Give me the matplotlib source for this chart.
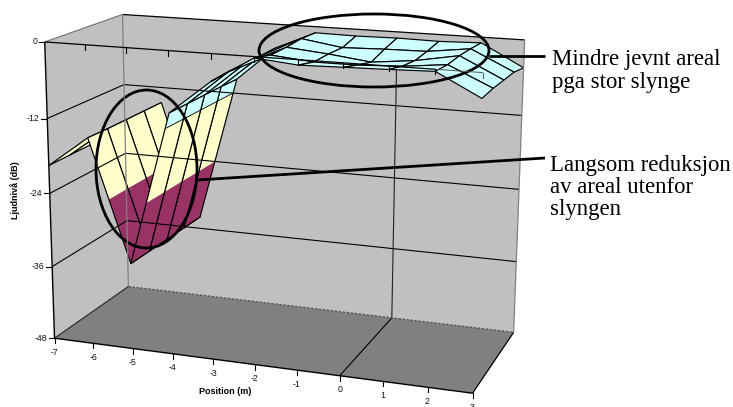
#!/usr/bin/env python3
import numpy as np
import matplotlib
matplotlib.use("Agg")
import matplotlib.pyplot as plt
from matplotlib.patches import Ellipse, Polygon

# Data: sound level (dB) per position, rows front to back
positions = [-7, -6, -5, -4, -3, -2, -1, 0, 1, 2, 3]
depth_rows = [0.0, 0.25, 0.5, 0.75, 1.0]
level_d0 = [-19.5, -14.5, -34, -9.5, -4.2, -0.2, -0.8, -0.65, -0.5, -0.3, -3.7]
level_d1 = [-19.5, -14.6, -34, -9.5, -4.0, -1.0, -1.6, -1.6, -1.3, -0.6, -3.6]
level_d2 = [-19.5, -14.6, -34, -9.5, -4.0, -1.0, -1.6, -2.4, -1.7, -0.5, -3.7]
level_d3 = [-19.5, -14.6, -34, -9.5, -4.0, -0.8, -1.8, -1.6, -1.5, -0.65, -3.8]
level_d4 = [-19.5, -14.6, -34, -9.6, -3.9, -1.0, -1.1, -1.0, -1.1, -0.9, -4.4]
levels = np.array([level_d0, level_d1, level_d2, level_d3, level_d4])

y_ticks = [0, -12, -24, -36, -48]

bands = [(-36, -24, "#993366"), (-48, -36, "#993366"),
         (-24, -12, "#FFFFCC"), (-12, 0, "#CCFFFF")]

# Camera fitted from the box corners: (position, depth, dB) -> pixel
calib = [(-7, 0, -48, 55, 338), (3, 0, -48, 473, 393), (-7, 1, -48, 128, 287),
         (3, 1, -48, 513, 332), (-7, 0, 0, 45, 41), (-7, 1, 0, 123, 15),
         (3, 1, 0, 525, 39), (3, 0, 0, 483, 73), (0, 0, -48, 340, 376),
         (0, 1, -48, 392, 318), (0, 0, 0, 342, 64), (-7, 0, -24, 49, 193)]
A = []
for X, D, Z, u, v in calib:
    A.append([X, D, Z, 1, 0, 0, 0, 0, -u * X, -u * D, -u * Z, -u])
    A.append([0, 0, 0, 0, X, D, Z, 1, -v * X, -v * D, -v * Z, -v])
P = np.linalg.svd(np.array(A, float))[2][-1].reshape(3, 4)


def project(x, d, z):
    h = P @ np.array([x, d, z, 1.0])
    return h[0] / h[2], h[1] / h[2]


def line3d(ax, a, b, **kw):
    p, q = project(*a), project(*b)
    ax.plot([p[0], q[0]], [p[1], q[1]], solid_capstyle="butt", **kw)


def clip_z(poly, lo, hi):
    """Clip a 3D polygon to lo <= z <= hi."""
    for bound, keep in ((lo, lambda z: z >= lo), (hi, lambda z: z <= hi)):
        out = []
        for i in range(len(poly)):
            a, b = poly[i], poly[(i + 1) % len(poly)]
            if keep(a[2]):
                out.append(a)
            if keep(a[2]) != keep(b[2]):
                t = (bound - a[2]) / (b[2] - a[2])
                out.append(tuple(a[k] + t * (b[k] - a[k]) for k in range(3)))
        poly = out
        if not poly:
            return []
    return poly


fig = plt.figure(figsize=(7.33, 4.07), dpi=100)
ax = fig.add_axes([0, 0, 1, 1])
ax.set_xlim(0, 733)
ax.set_ylim(407, 0)
ax.axis("off")

x0, x1 = positions[0], positions[-1]

# Walls and floor
left_wall = [project(x0, 0, 0), project(x0, 1, 0), project(x0, 1, -48), project(x0, 0, -48)]
back_wall = [project(x0, 1, 0), project(x1, 1, 0), project(x1, 1, -48), project(x0, 1, -48)]
floor = [project(x0, 0, -48), project(x1, 0, -48), project(x1, 1, -48), project(x0, 1, -48)]
ax.add_patch(Polygon(left_wall, fc="#C0C0C0", ec="none"))
ax.add_patch(Polygon(back_wall, fc="#C0C0C0", ec="none"))
ax.add_patch(Polygon(floor, fc="#808080", ec="none"))

# Gridlines and box edges
for z in y_ticks[1:-1]:
    line3d(ax, (x0, 0, z), (x0, 1, z), color="k", lw=0.8)
    line3d(ax, (x0, 1, z), (x1, 1, z), color="k", lw=0.8)
line3d(ax, (x0, 0, 0), (x0, 1, 0), color="#707070", lw=0.8)
line3d(ax, (x0, 1, 0), (x1, 1, 0), color="k", lw=0.9)
line3d(ax, (x0, 1, 0), (x0, 1, -48), color="#808080", lw=0.9)
line3d(ax, (x1, 1, 0), (x1, 1, -48), color="#808080", lw=0.9)
line3d(ax, (0, 1, -6), (0, 1, -48), color="#202020", lw=0.8)
line3d(ax, (0, 0, -48), (0, 1, -48), color="k", lw=0.8)
line3d(ax, (x0, 1, -48), (x1, 1, -48), color="#505050", lw=0.9, ls=(0, (2, 1.2)))
line3d(ax, (x0, 0, -48), (x0, 1, -48), color="#303030", lw=0.9)
line3d(ax, (x0, 0, -48), (x1, 0, -48), color="k", lw=1.0)
line3d(ax, (x1, 0, -48), (x1, 1, -48), color="k", lw=0.9)
line3d(ax, (x0, 0, 0), (x0, 0, -48), color="k", lw=1.0)

# Surface, painted column by column, back rows first
for c in range(len(positions) - 1):
    for r in range(len(depth_rows) - 2, -1, -1):
        quad = [(positions[c], depth_rows[r], levels[r, c]),
                (positions[c + 1], depth_rows[r], levels[r, c + 1]),
                (positions[c + 1], depth_rows[r + 1], levels[r + 1, c + 1]),
                (positions[c], depth_rows[r + 1], levels[r + 1, c])]
        for lo, hi, col in bands:
            part = clip_z(quad, lo, hi)
            if len(part) >= 3:
                ax.add_patch(Polygon([project(*p) for p in part], fc=col, ec="none", lw=0))
        # -12 contour shows as a line in the original
        cut = clip_z(quad, -12, 0)
        edge = [p for p in cut if abs(p[2] + 12) < 1e-9]
        if len(edge) == 2:
            line3d(ax, edge[0], edge[1], color="k", lw=0.6)
        ax.add_patch(Polygon([project(*p) for p in quad], fc="none", ec="k", lw=0.85))

# Front top edge with its ticks, drawn over the surface
line3d(ax, (x0, 0, 0), (2, 0, 0), color="k", lw=0.9)
line3d(ax, (2, 0, 0), (x1, 0, 0), color="#505050", lw=0.7)
for x in positions[1:]:
    u, v = project(x, 0, 0)
    ax.plot([u, u], [v, v + 5], color="k" if x < 3 else "#606060", lw=0.8)

# Axis ticks and labels
for z in y_ticks:
    u, v = project(x0, 0, z)
    ax.plot([u - 6, u], [v, v], color="k", lw=0.8)
    ax.text(u - 7.5, v, str(z), ha="right", va="center", fontsize=6.3,
            family="Liberation Sans", color="#111111")
for x in positions:
    u, v = project(x, 0, -48)
    ax.plot([u, u], [v, v + 5], color="k", lw=0.8)
    ax.text(u, v + 14, str(x), ha="center", va="center", fontsize=6.3,
            family="Liberation Sans", color="#111111", clip_on=True)
ax.text(15, 190, "Ljudnivå (dB)", rotation=90, ha="center", va="center", fontsize=6.5,
        family="Liberation Sans", fontweight="bold")
ax.text(225, 392, "Position (m)", ha="center", va="center", fontsize=6.5,
        family="Liberation Sans", fontweight="bold")

# Annotations
ax.add_patch(Ellipse((374, 50.5), 230, 73, fc="none", ec="k", lw=2))
ax.add_patch(Ellipse((146.5, 169), 101, 158, fc="none", ec="k", lw=2))
ax.plot([489, 545], [56, 56], color="k", lw=2, solid_capstyle="butt")
ax.plot([197, 545], [180, 158], color="k", lw=2, solid_capstyle="butt")
notes = [(552, 65, "Mindre jevnt areal"), (552, 88, "pga stor slynge"),
         (550, 171, "Langsom reduksjon"), (550, 193, "av areal utenfor"), (550, 215, "slyngen")]
for u, v, s in notes:
    ax.text(u, v, s, ha="left", va="baseline", fontsize=16.4, family="Liberation Serif", color="k")

fig.savefig("out.png", dpi=100)
